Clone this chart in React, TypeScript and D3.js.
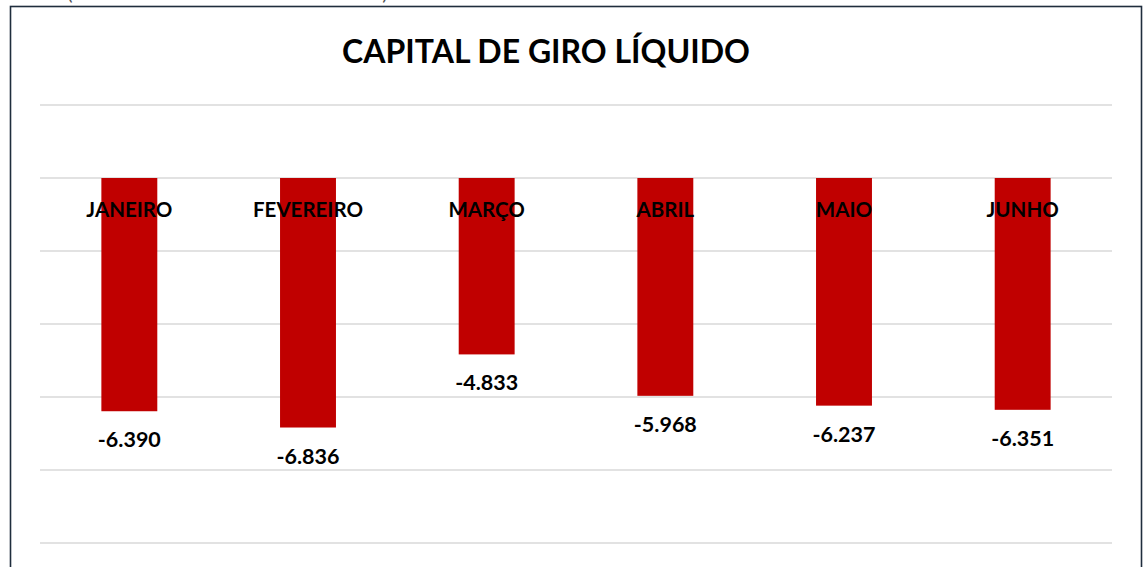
import React, { useEffect } from 'react';
import * as d3 from 'd3';

// data
const months = ['JANEIRO', 'FEVEREIRO', 'MARÇO', 'ABRIL', 'MAIO', 'JUNHO'];
const cglValues = [-6390, -6836, -4833, -5968, -6237, -6351];
const yTicks = [2000, 0, -2000, -4000, -6000, -8000, -10000];

const chartTitle = 'CAPITAL DE GIRO LÍQUIDO';
const topNote = 'CGL = (Ativo circulante - Passivo circulante)';

const W = 1146;
const H = 567;
const font = 'Lato, "Open Sans", sans-serif';

const App = () => {
  useEffect(() => {
    document.body.style.margin = '0';
  }, []);

  const x = d3.scaleBand<string>()
    .domain(months)
    .range([40, 1112])
    .paddingInner(0.687)
    .paddingOuter(0.3435);

  const y = d3.scaleLinear()
    .domain([2000, -10000])
    .range([105, 543]);

  // thousands with a dot, plain hyphen for the minus sign
  const fmt = (v: number) => d3.format(',')(v).replace(/,/g, '.').replace('\u2212', '-');

  return (
    <svg width={W} height={H} style={{ display: 'block', background: '#fff' }}>
      {/* note above the frame, cut off by the top edge as in the reference */}
      <text x={8} y={-0.5} fontFamily={font} fontSize={20} fill="#555">{topNote}</text>

      <rect x={10.5} y={6.5} width={1131} height={H} fill="#fff" stroke="#1f2d3d" strokeWidth={1.6} />

      <text x={546} y={63} textAnchor="middle" fontFamily={font} fontWeight="bold" fontSize={32} fill="#000">
        {chartTitle}
      </text>

      {yTicks.map(t => (
        <line key={t} x1={40} x2={1112} y1={y(t)} y2={y(t)} stroke="#d9d9d9" strokeWidth={1.5} />
      ))}

      {months.map((m, i) => {
        const v = cglValues[i];
        const bx = x(m) as number;
        const cx = bx + x.bandwidth() / 2;
        return (
          <g key={m}>
            <rect x={bx} y={y(0)} width={x.bandwidth()} height={y(v) - y(0)} fill="#c00000" />
            <text x={cx} y={217} textAnchor="middle" fontFamily={font} fontWeight="bold" fontSize={20.5} fill="#000">
              {m}
            </text>
            <text x={cx} y={y(v) + 36} textAnchor="middle" fontFamily={font} fontWeight="bold" fontSize={21.5} fill="#000">
              {fmt(v)}
            </text>
          </g>
        );
      })}
    </svg>
  );
};

export default App;
